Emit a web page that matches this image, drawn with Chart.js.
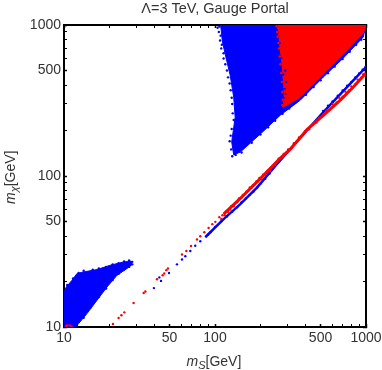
<!DOCTYPE html>
<html>
<head>
<meta charset="utf-8">
<style>
html, body { margin: 0; padding: 0; background: #fff; }
canvas { display: block; }
</style>
<script src="https://cdn.jsdelivr.net/npm/chart.js@4"></script>
</head>
<body>
<canvas id="myChart" width="382" height="370"></canvas>
<script>
// outlines of the dense clouds, [mS, mChi] in GeV
const blueWedge = [[109, 1000], [112, 771], [118, 614], [126, 466], [133, 333], [136, 245], [129, 168], [133, 138],
    [147.1, 144], [205.7, 195], [270.7, 253], [367.2, 318], [521.4, 452], [707.4, 604], [960, 833], [1000, 1000]];
const redWedge = [[262, 1000], [268, 759], [276, 586], [283, 452], [288, 333], [285, 295], [292, 290],
    [367.2, 333], [475.9, 432], [645.5, 586], [960, 885], [1000, 1000]];
const blueLowCloud = [[10, 17.06], [10.36, 18.42], [11.3, 20.4], [12.19, 22.6], [13.49, 23.15], [16.54, 24.01], [20.26, 25.65],
    [24.82, 26.96], [27.9, 27.25], [27.9, 25.65], [26.14, 24.39], [22.44, 22.01], [19.27, 18.42], [16.54, 15.03], [14.2, 12.27],
    [12.49, 10.53], [11.88, 10], [10, 10]];

// the thin band at mChi ~ mS/2
const blueBand = [[86.2, 39.3], [114, 51.8], [147.1, 65.1], [189.7, 83.7], [250.8, 116.6], [523.8, 266.3], [827.6, 432], [1000, 527]];
const redBand = [[114, 55.9], [147.1, 71], [204.8, 98.7], [270.7, 131.3], [315.3, 150.7], [406.7, 202.9], [523.8, 253.1],
    [675.7, 318.3], [827.6, 389.9], [1000, 480.8]];

// single points
const blueDots = [[39.4, 18.1], [42.8, 21.3], [43.9, 20.2], [49.6, 22.8], [56, 26], [60.5, 28], [63.6, 29.4], [68.6, 31.9],
    [74, 34.5], [79.9, 37], [93.1, 42.4], [90, 41], [100, 46], [110, 50], [120, 54], [130, 58], [140, 62], [150, 67], [160, 71],
    [170, 75], [180, 79], [190, 84], [200, 89], [215, 96], [230, 104],
    [520, 270], [560, 292], [600, 312], [650, 340], [700, 368], [750, 396], [800, 420], [850, 450], [900, 478], [950, 505], [990, 525],
    [104, 960], [107, 975], [106, 900], [109, 850], [108, 790], [111, 740],
    [110, 700], [114, 650], [114, 600], [117, 550], [120, 500], [122, 450],
    [125, 410], [127, 370], [129, 330], [130, 300], [131, 260],
    [133, 235], [129, 205], [127, 185], [125, 170], [128, 150], [130, 135],
    [142, 148], [137, 138],
    [150, 143], [175, 166], [200, 188], [225, 210], [250, 232], [280, 258], [310, 280], [340, 305], [400, 345], [450, 388], [500, 430],
    [560, 480], [620, 530], [700, 595], [780, 665], [860, 740], [930, 800],
    [268, 760], [275, 600], [283, 470], [289, 380], [293, 350], [296, 420], [285, 330], [292, 500],
    [10.5, 19], [11, 18], [11.5, 21], [12, 19.5], [12.5, 22.8], [13, 21], [13.5, 23.6], [14.5, 22.5], [15.5, 24], [17, 24.4], [19, 25],
    [21, 26], [23, 26.5], [25, 27.2], [27, 27.6], [28.3, 27], [28.3, 26], [27, 25], [25, 24], [23, 22.5], [21, 20.5], [19, 18], [17, 15.8],
    [15, 13.5], [13.5, 11.5], [12.2, 10.3], [11.5, 10.2]];
const redDots = [[10.47, 10.26], [10.9, 10.26], [10.3, 10.1], [11.2, 10.1],
    [21.1, 10.47], [23, 11.47], [24, 11.96], [25.1, 12.5], [28.9, 14.42], [33.7, 16.8], [34.6, 17.2], [41.3, 20.7], [45, 22],
    [46.1, 22.6], [47.6, 23.8], [48.8, 24.4], [60.5, 30.2], [64.6, 31.9], [69.4, 34.4], [76, 38], [79.9, 39.9], [85, 42.4],
    [90.7, 45.3], [96, 48], [100.5, 49.7], [106.8, 53.4],
    [110, 52], [112, 55], [116, 55], [118, 58], [122, 58], [126, 60], [128, 63], [133, 63], [136, 66], [140, 67], [144, 71], [150, 72],
    [153, 75], [158, 76], [162, 79], [166, 80], [170, 84], [175, 84], [178, 87], [183, 88], [188, 92], [192, 92], [197, 97], [202, 96],
    [208, 102], [214, 102], [222, 108], [232, 108], [240, 115], [248, 118], [258, 124], [264, 130], [278, 133], [285, 140], [296, 142],
    [305, 150], [322, 154], [333, 165], [345, 168], [360, 180], [380, 186], [395, 198], [420, 204], [440, 218], [470, 226], [490, 243],
    [520, 252], [548, 272], [575, 275], [600, 300], [640, 306], [665, 330], [700, 335], [730, 362], [770, 368], [800, 392], [850, 405],
    [880, 435], [930, 448], [960, 472], [990, 470],
    [256, 980], [262, 950], [258, 900], [268, 870], [260, 840], [270, 800], [263, 760], [272, 730], [265, 700], [275, 660], [268, 620],
    [278, 590], [271, 550], [282, 520], [274, 480], [285, 450], [277, 420], [288, 390], [279, 360], [290, 340], [281, 320], [287, 310],
    [279, 295], [284, 290], [290, 300]];

// axis ticks
const tickValues = [10, 20, 30, 40, 50, 60, 70, 80, 90, 100, 200, 300, 400, 500, 600, 700, 800, 900, 1000];
const tickLabels = [10, 50, 100, 500, 1000];

const BLUE = '#0000ff';
const RED = '#ff0000';

function toXY(list) {
    return list.map(p => ({x: p[0], y: p[1]}));
}

function outline(list, color) {
    return {data: toXY(list), showLine: true, fill: 'shape', backgroundColor: color, borderColor: color, borderWidth: 1, pointRadius: 0};
}

function band(list, color, width) {
    return {data: toXY(list), showLine: true, fill: false, borderColor: color, borderWidth: width, pointRadius: 0};
}

function dots(list, color) {
    return {data: toXY(list), showLine: false, backgroundColor: color, borderWidth: 0, pointRadius: 1.2};
}

function logAxis(position, width, height, showLabels) {
    return {
        type: 'logarithmic',
        position: position,
        min: 10,
        max: 1000,
        afterBuildTicks: scale => { scale.ticks = tickValues.map(v => ({value: v})); },
        afterFit: scale => {
            if (height !== null) scale.height = height;
            if (width !== null) scale.width = width;
            // the 1000 label hangs over the edge, don't let it shrink the plot
            scale.paddingLeft = scale.paddingRight = scale.paddingTop = scale.paddingBottom = 0;
        },
        border: {display: true, color: '#000', width: 2},
        grid: {
            drawOnChartArea: false,
            drawTicks: true,
            tickLength: -3,
            tickColor: '#000',
            tickWidth: ctx => ctx.tick && tickLabels.includes(ctx.tick.value) ? 1.5 : 1
        },
        ticks: {
            display: showLabels,
            autoSkip: false,
            maxRotation: 0,
            padding: 6,
            color: '#333',
            font: {family: '"Liberation Sans"', size: 14},
            callback: v => tickLabels.includes(v) ? String(v) : ''
        }
    };
}

// axis titles need an italic m and a subscript, a single-font scale title cannot do that
const axisTitles = {
    id: 'axisTitles',
    afterDraw(chart) {
        const c = chart.ctx;
        const parts = (sub) => [
            ['italic 14px "Liberation Sans"', 'm', 0],
            ['italic 11px "Liberation Sans"', sub, 3],
            ['14px "Liberation Sans"', '[GeV]', 0]
        ];
        function write(list) {
            let x = 0;
            list.forEach(p => {
                c.font = p[0];
                c.fillText(p[1], x, p[2]);
                x += c.measureText(p[1]).width;
            });
        }
        c.save();
        c.fillStyle = '#333';
        c.textBaseline = 'alphabetic';
        c.translate(186.5, 366);
        write(parts('S'));
        c.restore();
        c.save();
        c.fillStyle = '#333';
        c.textBaseline = 'alphabetic';
        c.translate(15, 204);
        c.rotate(-Math.PI / 2);
        write(parts('χ'));
        c.restore();
    }
};

new Chart(document.getElementById('myChart'), {
    type: 'scatter',
    data: {
        datasets: [
            dots(redDots, RED),
            dots(blueDots, BLUE),
            band(redBand, RED, 3),
            band(blueBand, BLUE, 2.5),
            outline(redWedge, RED),
            outline(blueWedge, BLUE),
            outline(blueLowCloud, BLUE)
        ]
    },
    options: {
        responsive: false,
        animation: false,
        layout: {autoPadding: false, padding: {left: 0, right: 16, top: 0, bottom: 0}},
        plugins: {
            legend: {display: false},
            tooltip: {enabled: false},
            title: {
                display: true,
                text: 'Λ=3 TeV, Gauge Portal',
                fullSize: false,
                color: '#333',
                font: {family: '"Liberation Sans"', size: 14.5, weight: 'normal'},
                padding: {top: 0, bottom: 7.6}
            }
        },
        scales: {
            x: logAxis('bottom', null, 43, true),
            y: logAxis('left', 64, null, true),
            x2: logAxis('top', null, 0, false),
            y2: logAxis('right', 0, null, false)
        }
    },
    plugins: [axisTitles]
});
</script>
</body>
</html>
